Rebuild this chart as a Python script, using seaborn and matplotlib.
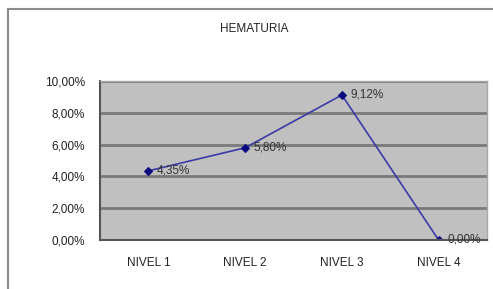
import matplotlib
matplotlib.use("Agg")
import matplotlib.pyplot as plt
import matplotlib.patches as mpatches
import pandas as pd
import seaborn as sns

# datos del gráfico
niveles = ["NIVEL 1", "NIVEL 2", "NIVEL 3", "NIVEL 4"]
valores = [4.35, 5.80, 9.12, 0.00]
etiquetas = ["4,35%", "5,80%", "9,12%", "0,00%"]
yticks = [0, 2, 4, 6, 8, 10]
ytick_labels = ["0,00%", "2,00%", "4,00%", "6,00%", "8,00%", "10,00%"]

df = pd.DataFrame({"nivel": niveles, "valor": valores, "pos": range(len(niveles))})

sns.set_style("white")
plt.rcParams["font.family"] = ["Liberation Sans", "DejaVu Sans"]

fig = plt.figure(figsize=(4.93, 2.89), dpi=100)
fig.patch.set_facecolor("white")
# marco exterior del gráfico
fig.patches.append(mpatches.Rectangle((8 / 493, -0.1), 1.2, 1 - 9 / 289 + 0.1,
                                      transform=fig.transFigure, fill=False,
                                      edgecolor="#8c8c8c", linewidth=1.5))

ax = fig.add_axes([100 / 493, 1 - 240 / 289, 387 / 493, 159 / 289])
ax.set_facecolor("#c0c0c0")

sns.lineplot(data=df, x="pos", y="valor", ax=ax, color="#3a3aa8", linewidth=1.2,
             marker="D", markersize=4.5, markerfacecolor="#0a0a80",
             markeredgecolor="#0a0a80")

for i, (v, t) in enumerate(zip(valores, etiquetas)):
    ax.text(i + 0.09, v, t, fontsize=8.5, color="#333333", va="center", ha="left",
            clip_on=False)

ax.set_xlim(-0.5, 3.5)
ax.set_ylim(0, 10)
ax.set_yticks(yticks)
ax.set_yticklabels(ytick_labels, fontsize=8.5, color="#222222")
ax.set_xticks(range(len(niveles)))
ax.set_xticklabels(niveles, fontsize=8.5, color="#222222")
ax.set_xticks([0.5, 1.5, 2.5], minor=True)
ax.tick_params(axis="x", which="major", length=0, pad=12)
ax.tick_params(axis="x", which="minor", length=4, direction="in", color="#555555")
ax.tick_params(axis="y", length=4, direction="out", color="#555555", pad=7)
ax.yaxis.grid(True, color="#7a7a7a", linewidth=2)
ax.set_axisbelow(True)
ax.set_xlabel("")
ax.set_ylabel("")
for s in ["left", "bottom"]:
    ax.spines[s].set_color("#555555")
    ax.spines[s].set_linewidth(1.5)
for s in ["top", "right"]:
    ax.spines[s].set_color("#a8a8a8")
    ax.spines[s].set_linewidth(1)

fig.text(254 / 493, 1 - 29 / 289, "HEMATURIA", ha="center", va="center",
         fontsize=8.5, color="#222222")

fig.savefig("out.png", dpi=100)
